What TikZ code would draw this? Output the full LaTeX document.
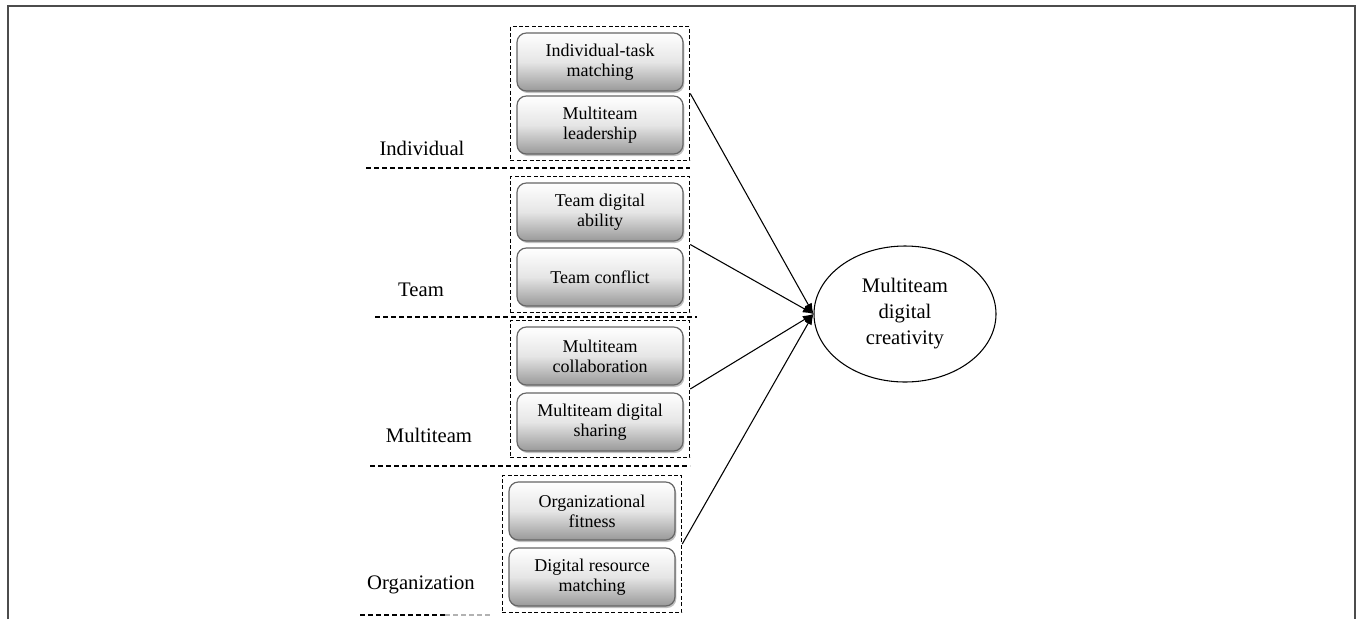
\documentclass[tikz,border=0pt]{standalone}
\usepackage{fontspec}
\setmainfont{Liberation Serif}
\usepackage{tikz}
\usetikzlibrary{arrows.meta,shapes.geometric,shadows,fit}

\begin{document}
\begin{tikzpicture}[x=0.75pt, y=-0.75pt]
		\tikzstyle{factor}=[draw=gray!80!black, line width=0.9pt, rounded corners=7pt,
			top color=white, bottom color=gray!80, middle color=gray!20, minimum width=124.5pt, minimum height=43.5pt,
			align=center, font=\fontsize{13.5}{15}\selectfont,
			drop shadow={shadow xshift=1pt, shadow yshift=-1.5pt, fill=gray!70, opacity=.7}];
		\tikzstyle{group}=[draw, dashed, dash pattern=on 3pt off 1.8pt, line width=1pt, inner sep=4.5pt];
		\tikzstyle{level}=[font=\fontsize{15.5}{18}\selectfont];
		\tikzstyle{sep}=[dashed, dash pattern=on 3.5pt off 2.5pt, line width=0.8pt];

		\useasboundingbox (0,0) rectangle (1357,619);
		\draw[gray!60!black, line width=1.5pt] (8,619) -- (8,6) -- (1355,6) -- (1355,619);

		% factors
		\node[factor] (itm) at (600,62) {Individual-task\\matching};
		\node[factor] (ml) at (600,125) {Multiteam\\leadership};
		\node[factor] (tda) at (600,212) {Team digital\\ability};
		\node[factor] (tc) at (600,277) {Team conflict};
		\node[factor] (mc) at (600,356) {Multiteam\\collaboration};
		\node[factor] (mds) at (600,422) {Multiteam digital\\sharing};
		\node[factor] (of) at (592,511) {Organizational\\fitness};
		\node[factor] (drm) at (592,577) {Digital resource\\matching};

		% groups
		\node[group, fit=(itm)(ml)] (gind) {};
		\node[group, fit=(tda)(tc)] (gteam) {};
		\node[group, fit=(mc)(mds)] (gmt) {};
		\node[group, fit=(of)(drm)] (gorg) {};

		% levels
		\node[level] (lind) at (422,148) {Individual};
		\node[level] (lteam) at (421,290) {Team};
		\node[level] (lmt) at (429,435) {Multiteam};
		\node[level] (lorg) at (421,585) {Organization};

		\draw[sep] (366,168) -- (690,168);
		\draw[sep] (375,317) -- (697,317);
		\draw[sep] (370,466) -- (690,466);
		\draw[sep] (360,615) -- (445,615);
		\draw[sep, gray!60] (445,615) -- (490,615);

		% outcome
		\node[ellipse, draw, line width=0.8pt, minimum width=136.5pt, minimum height=102pt, inner sep=0pt,
			align=center, font=\fontsize{15.5}{19.5}\selectfont] (mdc) at (905,314)
			{Multiteam\\digital\\creativity};

		\foreach \g in {gind,gteam,gmt,gorg}
			\draw[line width=0.8pt, -{Latex[length=8pt,width=6pt]}] (\g.east) -- (mdc.west);
	\end{tikzpicture}
\end{document}
